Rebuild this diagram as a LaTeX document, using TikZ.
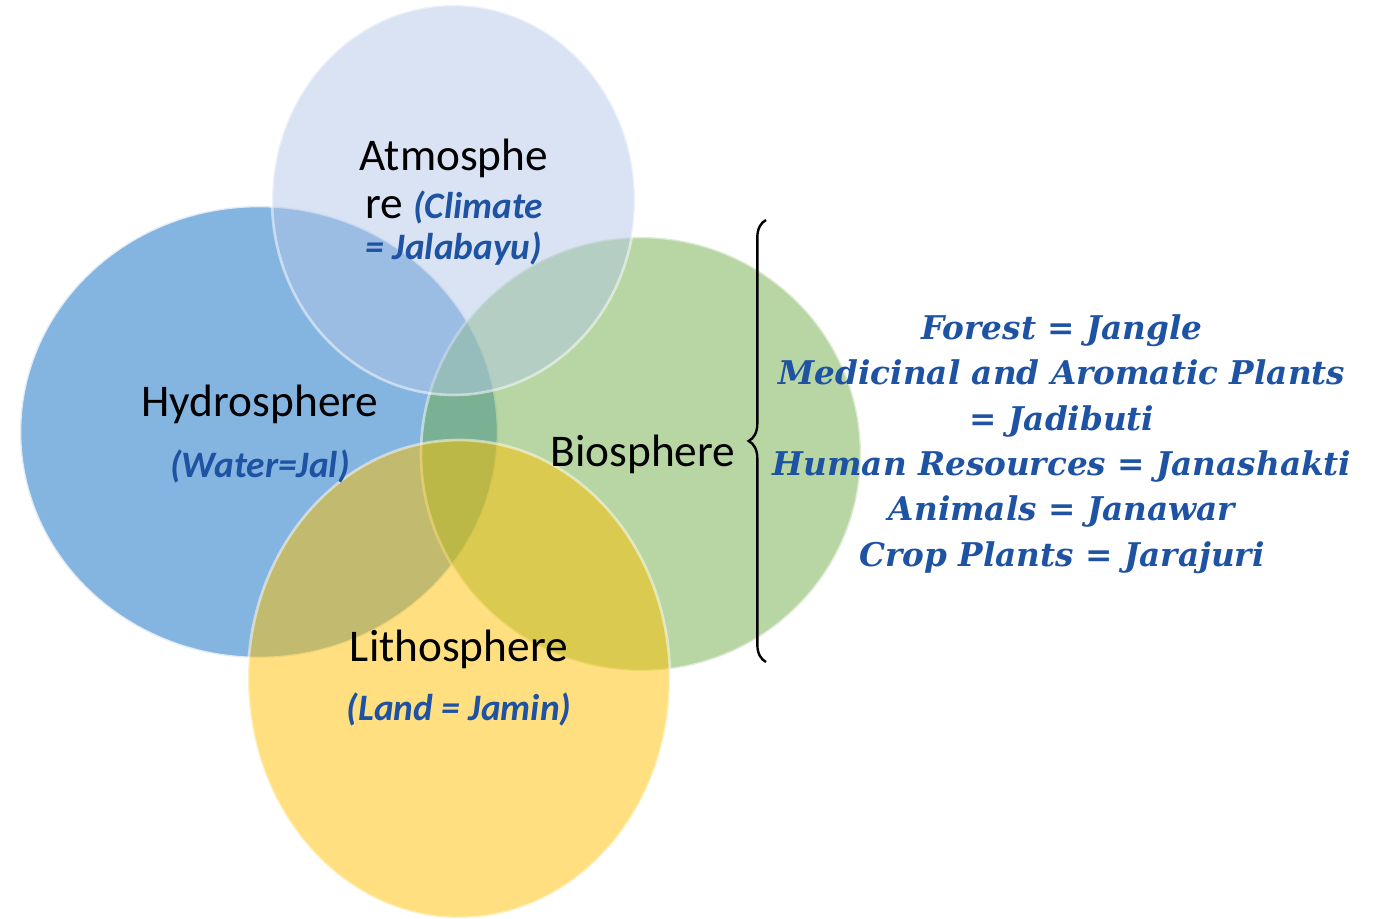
\documentclass[tikz,border=0pt]{standalone}
\usepackage{fontspec}
\setmainfont{Carlito}
\newfontfamily\slabfont{DejaVu Serif}
\usetikzlibrary{decorations.pathreplacing}
\definecolor{venncolor0000}{RGB}{91,155,213}
\definecolor{venncolor0001}{RGB}{112,173,71}
\definecolor{venncolor0002}{RGB}{180,199,231}
\definecolor{venncolor0003}{RGB}{255,192,0}
\definecolor{venncolor0004}{RGB}{30,82,162}
\newcommand\bluenote[1]{{\color{venncolor0004}\fontsize{28}{34}\selectfont\bfseries\itshape #1}}

\begin{document}
\begin{tikzpicture}[x=0.75pt,y=-0.75pt
,vstyle0/.style={draw=white,line width=2pt}
,vstyle1/.style={color=black,anchor=base,font=\fontsize{34}{40}\selectfont}
,vstyle2/.style={anchor=base,inner sep=0pt}
,vstyle3/.style={color=venncolor0004,align=center,font=\fontsize{24.5}{34}\selectfont\slabfont\bfseries\itshape}
]
\useasboundingbox (0,0) rectangle (1386,919);
\path[vstyle0,fill=venncolor0000,opacity=0.75] (259,432) ellipse [x radius=239,y radius=226];
\path[vstyle0,fill=venncolor0001,opacity=0.5] (641,454) ellipse [x radius=220,y radius=217];
\path[vstyle0,fill=venncolor0002,opacity=0.5] (453.5,200) ellipse [x radius=181.5,y radius=195];
\path[vstyle0,fill=venncolor0003,opacity=0.5] (459,679) ellipse [x radius=211,y radius=239];
\node (atmo) at (454,171)[vstyle1]{Atmosphe};
\node (atmob) at (454,219)[vstyle1]{re \bluenote{(Climate}};
\node (atmoc) at (454,260)[vstyle2]{\bluenote{= Jalabayu)}};
\node (hydro) at (260,417)[vstyle1]{Hydrosphere};
\node (hydrob) at (260,478)[vstyle2]{\bluenote{(Water=Jal)}};
\node (bio) at (643,467)[vstyle1]{Biosphere};
\node (litho) at (459,662)[vstyle1]{Lithosphere};
\node (lithob) at (459,720)[vstyle2]{\bluenote{(Land = Jamin)}};
\coordinate (braceb) at (766,662);
\coordinate (bracet) at (766,220);
\draw[decorate,decoration={brace,amplitude=13pt},line width=1.8pt] (braceb) -- (bracet);
\node (plants) at (1062,444)[vstyle3]{Forest = Jangle\\Medicinal and Aromatic Plants\\= Jadibuti\\Human Resources = Janashakti\\Animals = Janawar\\Crop Plants = Jarajuri};
\end{tikzpicture}
\end{document}
